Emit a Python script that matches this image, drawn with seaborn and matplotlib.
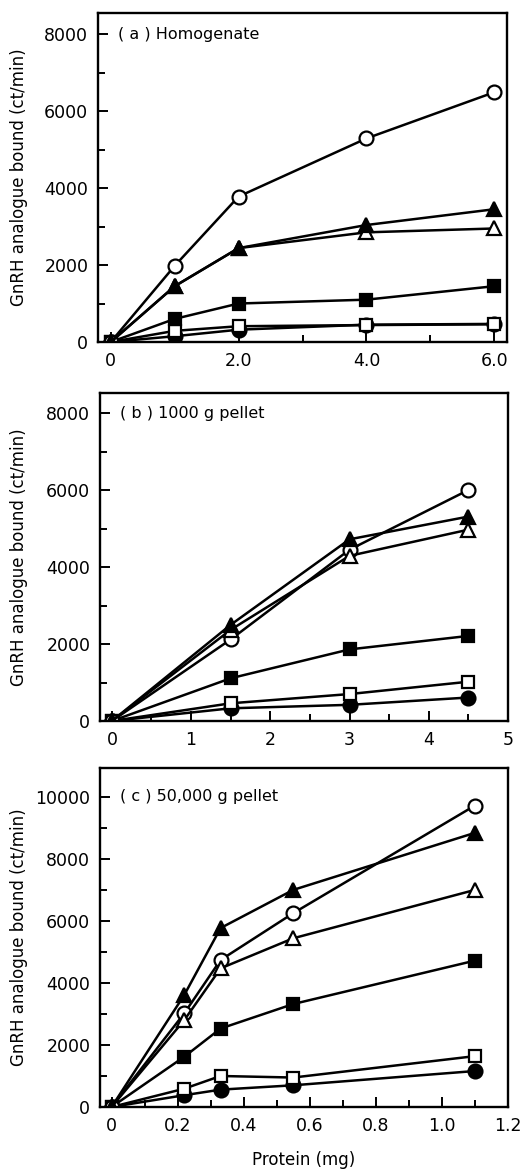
import numpy as np
import pandas as pd
import seaborn as sns
import matplotlib.pyplot as plt
from matplotlib.ticker import MultipleLocator

# protein (mg) for each panel
protein_a = [0, 1.0, 2.0, 4.0, 6.0]
protein_b = [0, 1.5, 3.0, 4.5]
protein_c = [0, 0.22, 0.33, 0.55, 1.1]

# GnRH analogue bound (ct/min), one list per symbol
a_open_circle = [0, 1980, 3780, 5290, 6490]
a_filled_triangle = [0, 1450, 2440, 3040, 3450]
a_open_triangle = [0, 1450, 2440, 2850, 2950]
a_filled_square = [0, 600, 1000, 1100, 1450]
a_open_square = [0, 290, 410, 440, 460]
a_filled_circle = [0, 150, 320, 450, 470]

b_open_circle = [0, 2120, 4450, 6000]
b_filled_triangle = [0, 2500, 4720, 5310]
b_open_triangle = [0, 2370, 4290, 4970]
b_filled_square = [0, 1110, 1860, 2210]
b_open_square = [0, 460, 700, 1020]
b_filled_circle = [0, 330, 420, 610]

c_open_circle = [0, 3020, 4740, 6250, 9720]
c_filled_triangle = [0, 3610, 5770, 7000, 8840]
c_open_triangle = [0, 2800, 4470, 5440, 7000]
c_filled_square = [0, 1620, 2530, 3320, 4720]
c_open_square = [0, 590, 1000, 950, 1640]
c_filled_circle = [0, 380, 560, 700, 1160]

series_names = ["open_circle", "filled_triangle", "open_triangle",
                "filled_square", "open_square", "filled_circle"]
# drawing order, bottom to top
draw_order = ["filled_circle", "open_square", "filled_square",
              "open_circle", "open_triangle", "filled_triangle"]
styles = {
    "open_circle": ("o", "white"),
    "filled_triangle": ("^", "black"),
    "open_triangle": ("^", "white"),
    "filled_square": ("s", "black"),
    "open_square": ("s", "white"),
    "filled_circle": ("o", "black"),
}

panels = [
    ("( a ) Homogenate", protein_a,
     [a_open_circle, a_filled_triangle, a_open_triangle, a_filled_square, a_open_square, a_filled_circle]),
    ("( b ) 1000 g pellet", protein_b,
     [b_open_circle, b_filled_triangle, b_open_triangle, b_filled_square, b_open_square, b_filled_circle]),
    ("( c ) 50,000 g pellet", protein_c,
     [c_open_circle, c_filled_triangle, c_open_triangle, c_filled_square, c_open_square, c_filled_circle]),
]

sns.set_style("ticks")
plt.rcParams['font.family'] = ['DejaVu Sans']
plt.rcParams.update({"text.color": "black", "axes.edgecolor": "black",
                     "axes.labelcolor": "black", "xtick.color": "black",
                     "ytick.color": "black"})

W, H = 522, 1172
fig = plt.figure(figsize=(W / 100, H / 100), dpi=100)
# axes boxes in pixels: left, top, right, bottom
boxes_px = [(98, 13, 507, 342), (100, 393, 508, 721), (100, 768, 508, 1107)]
xlims = [(-0.2, 6.2), (-0.15, 5.0), (-0.035, 1.19)]
ylims = [(0, 8550), (0, 8520), (0, 10930)]
xmajor = [[0, 2, 4, 6], [0, 1, 2, 3, 4, 5], [0, 0.2, 0.4, 0.6, 0.8, 1.0, 1.2]]
xlabels = [["0", "2.0", "4.0", "6.0"], ["0", "1", "2", "3", "4", "5"],
           ["0", "0.2", "0.4", "0.6", "0.8", "1.0", "1.2"]]
xminor = [1.0, 0.5, 0.1]
ymax_tick = [8000, 8000, 10000]

for i, (title, protein, values) in enumerate(panels):
    l, t, r, b = boxes_px[i]
    ax = fig.add_axes([l / W, 1 - b / H, (r - l) / W, (b - t) / H])
    rows = []
    for name, vals in zip(series_names, values):
        for p, v in zip(protein, vals):
            rows.append({"protein": p, "bound": v, "series": name})
    df = pd.DataFrame(rows)
    for name in draw_order:
        sub = df[df["series"] == name]
        marker, face = styles[name]
        sns.lineplot(data=sub, x="protein", y="bound", ax=ax, color="black",
                     linewidth=1.8, marker=marker,
                     markersize=10 if marker != "s" else 8.5,
                     markerfacecolor=face, markeredgecolor="black",
                     markeredgewidth=1.6, legend=False)
    ax.set_xlim(*xlims[i])
    ax.set_ylim(*ylims[i])
    ax.set_xticks(xmajor[i])
    ax.set_xticklabels(xlabels[i])
    ax.xaxis.set_minor_locator(MultipleLocator(xminor[i]))
    yt = np.arange(0, ymax_tick[i] + 1, 2000)
    ax.set_yticks(yt)
    ax.set_yticklabels([str(int(v)) for v in yt])
    ax.yaxis.set_minor_locator(MultipleLocator(1000))
    ax.tick_params(which="major", direction="in", length=7, width=1.4,
                   labelsize=12.5, pad=7)
    ax.tick_params(which="minor", direction="in", length=5, width=1.4)
    for s in ax.spines.values():
        s.set_linewidth(1.7)
    ax.set_xlabel("")
    ax.set_ylabel("GnRH analogue bound (ct/min)", fontsize=12)
    ax.yaxis.set_label_coords((28 - l) / (r - l), 0.5)
    ax.text(0.05, ymax_tick[i], title, transform=ax.get_yaxis_transform(),
            fontsize=11.5, va="center", ha="left")

ax.set_xlabel("Protein (mg)", fontsize=12, labelpad=12)

fig.savefig("out.png", dpi=100)
